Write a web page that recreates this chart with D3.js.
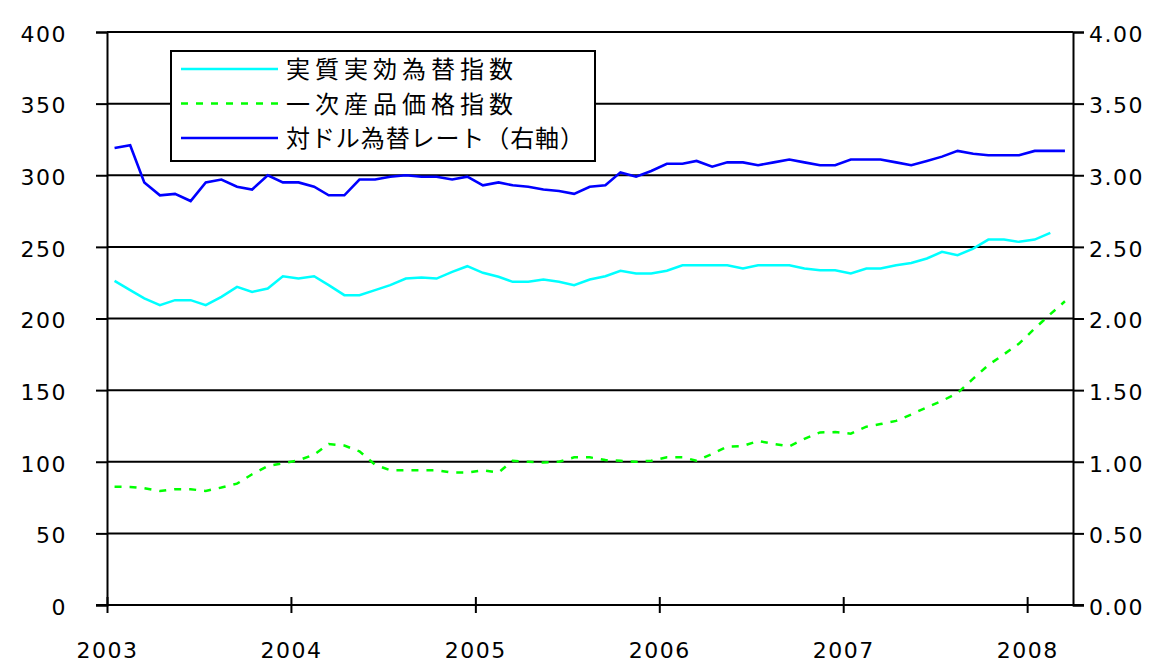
<!DOCTYPE html>
<html>
<head>
<meta charset="utf-8">
<script src="https://cdn.jsdelivr.net/npm/d3@7/dist/d3.min.js"></script>
<style>
  html, body { margin: 0; padding: 0; background: #fff; }
  svg { display: block; }
  .tick text { font-family: "DejaVu Sans", "Liberation Sans", sans-serif; }
</style>
</head>
<body>
<svg id="chart" width="1155" height="664"></svg>
<script>
// Monthly observations, Jan 2003 – Mar 2008
const months = [
  "2003-01","2003-02","2003-03","2003-04","2003-05","2003-06","2003-07","2003-08","2003-09","2003-10","2003-11","2003-12",
  "2004-01","2004-02","2004-03","2004-04","2004-05","2004-06","2004-07","2004-08","2004-09","2004-10","2004-11","2004-12",
  "2005-01","2005-02","2005-03","2005-04","2005-05","2005-06","2005-07","2005-08","2005-09","2005-10","2005-11","2005-12",
  "2006-01","2006-02","2006-03","2006-04","2006-05","2006-06","2006-07","2006-08","2006-09","2006-10","2006-11","2006-12",
  "2007-01","2007-02","2007-03","2007-04","2007-05","2007-06","2007-07","2007-08","2007-09","2007-10","2007-11","2007-12",
  "2008-01","2008-02","2008-03"
];

// 実質実効為替指数 (left axis)
const realEffective = [
  226.3, 219.8, 214.0, 209.3, 212.8, 212.8, 209.3, 215.1, 222.1, 218.6, 220.9, 229.5,
  227.9, 229.5, 223.3, 216.3, 216.3, 219.8, 223.3, 227.9, 228.6, 227.9, 232.6, 236.5,
  231.9, 229.1, 225.6, 225.6, 227.2, 225.6, 223.3, 227.2, 229.5, 233.3, 231.4, 231.4,
  233.3, 237.2, 237.2, 237.2, 237.2, 234.9, 237.2, 237.2, 237.2, 234.9, 233.7, 233.7,
  231.4, 234.9, 234.9, 237.2, 238.8, 241.9, 246.5, 244.2, 248.8, 255.1, 255.1, 253.5,
  255.1, 259.8
];

// 一次産品価格指数 (left axis)
const commodity = [
  82.6, 82.4, 81.5, 79.6, 80.8, 80.8, 79.6, 82.0, 84.7, 91.3, 97.0, 99.0,
  101.0, 105.0, 112.4, 111.3, 107.3, 97.9, 94.1, 94.1, 94.1, 94.1, 92.5, 92.5,
  94.1, 92.5, 100.7, 100.0, 99.5, 100.0, 103.1, 103.1, 101.2, 100.7, 100.0, 100.7,
  103.1, 103.1, 100.7, 105.4, 110.6, 111.0, 114.5, 112.5, 110.8, 116.0, 120.5, 120.7,
  119.6, 124.5, 126.3, 128.5, 133.0, 138.0, 142.5, 148.0, 158.0, 167.5, 175.0, 182.5,
  193.0, 203.0, 212.0
];

// 対ドル為替レート (right axis)
const dollarRate = [
  3.19, 3.21, 2.95, 2.86, 2.87, 2.82, 2.95, 2.97, 2.92, 2.90, 3.00, 2.95,
  2.95, 2.92, 2.86, 2.86, 2.97, 2.97, 2.99, 3.00, 2.99, 2.99, 2.97, 2.99,
  2.93, 2.95, 2.93, 2.92, 2.90, 2.89, 2.87, 2.92, 2.93, 3.02, 2.99, 3.03,
  3.08, 3.08, 3.10, 3.06, 3.09, 3.09, 3.07, 3.09, 3.11, 3.09, 3.07, 3.07,
  3.11, 3.11, 3.11, 3.09, 3.07, 3.10, 3.13, 3.17, 3.15, 3.14, 3.14, 3.14,
  3.17, 3.17, 3.17
];

const leftTicks = [0, 50, 100, 150, 200, 250, 300, 350, 400];
const rightTicks = [0, 0.5, 1, 1.5, 2, 2.5, 3, 3.5, 4];
const legendLabels = ["実質実効為替指数", "一次産品価格指数", "対ドル為替レート（右軸）"];

const svg = d3.select("#chart");
const plotLeft = 107, plotRight = 1073, plotTop = 32, plotBottom = 605;

const parseMonth = d3.timeParse("%Y-%m");
const monthDates = months.map(parseMonth);
// plot each monthly value at the middle of its month
const mid = d => d3.timeDay.offset(d, 15);

const x = d3.scaleTime()
  .domain([new Date(2003, 0, 1), new Date(2008, 3, 1)])
  .range([plotLeft, plotRight]);
const yL = d3.scaleLinear().domain([0, 400]).range([plotBottom, plotTop]);
const yR = d3.scaleLinear().domain([0, 4]).range([plotBottom, plotTop]);

// horizontal gridlines
svg.append("g")
  .selectAll("line")
  .data(leftTicks)
  .join("line")
  .attr("x1", plotLeft).attr("x2", plotRight)
  .attr("y1", d => yL(d)).attr("y2", d => yL(d))
  .attr("stroke", "#000").attr("stroke-width", 2);

// left axis
const gL = svg.append("g")
  .attr("transform", `translate(${plotLeft},0)`)
  .call(d3.axisLeft(yL).tickValues(leftTicks).tickFormat(d3.format("d")).tickSize(11).tickPadding(29));
// right axis
const gR = svg.append("g")
  .attr("transform", `translate(${plotRight},0)`)
  .call(d3.axisRight(yR).tickValues(rightTicks).tickFormat(d3.format(".2f")).tickSize(11).tickPadding(5));
// bottom axis
const gB = svg.append("g")
  .attr("transform", `translate(0,${plotBottom})`)
  .call(d3.axisBottom(x).ticks(d3.timeYear.every(1)).tickFormat(d3.timeFormat("%Y")).tickSize(8).tickPadding(29).tickSizeOuter(0));
gB.selectAll(".tick line").attr("y1", -8);

[gL, gR, gB].forEach(g => {
  g.selectAll(".domain").attr("stroke", "#000").attr("stroke-width", 2);
  g.selectAll(".tick line").attr("stroke", "#000").attr("stroke-width", 2);
  g.selectAll(".tick text")
    .attr("fill", "#000")
    .style("font-size", "22px")
    .style("letter-spacing", "1.5px");
});
gL.selectAll(".tick text").attr("dy", "0.42em");
gR.selectAll(".tick text").attr("dy", "0.42em");
gB.select(".domain").attr("d", `M${plotLeft - 11},0H${plotRight + 11}`);

// series lines
const lineL = d3.line().x((d, i) => x(mid(monthDates[i]))).y(d => yL(d));
const lineR = d3.line().x((d, i) => x(mid(monthDates[i]))).y(d => yR(d));

svg.append("path").datum(realEffective)
  .attr("d", lineL).attr("fill", "none")
  .attr("stroke", "#00ffff").attr("stroke-width", 2.5);
svg.append("path").datum(commodity)
  .attr("d", lineL).attr("fill", "none")
  .attr("stroke", "#00ff00").attr("stroke-width", 2.5)
  .attr("stroke-dasharray", "7,8");
svg.append("path").datum(dollarRate)
  .attr("d", lineR).attr("fill", "none")
  .attr("stroke", "#0000ff").attr("stroke-width", 2.6);

// legend
const legend = svg.append("g");
legend.append("rect")
  .attr("x", 171).attr("y", 51).attr("width", 424).attr("height", 110)
  .attr("fill", "#fff").attr("stroke", "#000").attr("stroke-width", 2);
const legendStyles = [
  { color: "#00ffff", dash: null },
  { color: "#00ff00", dash: "7,8" },
  { color: "#0000ff", dash: null }
];
const textWidths = [227, 227, 298];
legendLabels.forEach((label, i) => {
  const cy = 69 + i * 34.5;
  legend.append("line")
    .attr("x1", 181).attr("x2", 278).attr("y1", cy).attr("y2", cy)
    .attr("stroke", legendStyles[i].color).attr("stroke-width", 2.5)
    .attr("stroke-dasharray", legendStyles[i].dash);
  legend.append("text")
    .attr("x", 286).attr("y", cy + 9)
    .attr("textLength", textWidths[i]).attr("lengthAdjust", "spacing")
    .style("font-family", "'Noto Sans CJK JP', sans-serif")
    .style("font-size", "24px")
    .attr("fill", "#000")
    .text(label);
});
</script>
</body>
</html>
